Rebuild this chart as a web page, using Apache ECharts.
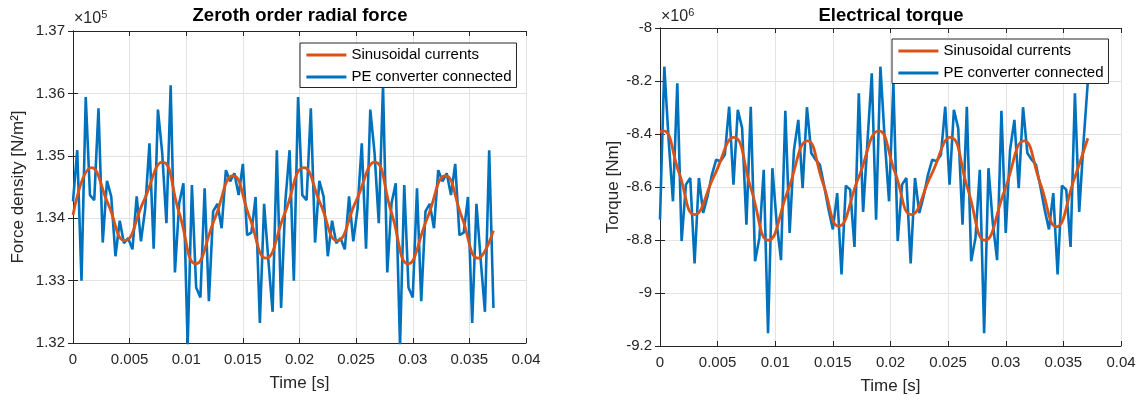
<!DOCTYPE html>
<html>
<head>
<meta charset="utf-8">
<script src="https://cdn.jsdelivr.net/npm/echarts@6/dist/echarts.min.js"></script>
<style>
html, body { margin: 0; padding: 0; background: #fff; }
#chart { width: 1143px; height: 400px; }
</style>
</head>
<body>
<div id="chart"></div>
<script>
// 采样步长（秒），蓝线每个点一个采样
const DT = 0.000375;

// 左图：径向力（单位 1e5 N/m^2）
const forcePE = [
	1.3427, 1.3509, 1.3300, 1.3594, 1.3437, 1.3429, 1.3576, 1.3361, 1.3460, 1.3435,
	1.3339, 1.3396, 1.3360, 1.3368, 1.3350, 1.3435, 1.3363, 1.3415, 1.3520, 1.3351,
	1.3574, 1.3505, 1.3392, 1.3613, 1.3313, 1.3424, 1.3456, 1.3195, 1.3453, 1.3289,
	1.3273, 1.3448, 1.3267, 1.3411, 1.3423, 1.3384, 1.3477, 1.3459, 1.3472, 1.3437,
	1.3487, 1.3373, 1.3377, 1.3434, 1.3232, 1.3423, 1.3333, 1.3250, 1.3509, 1.3256,
	1.3427, 1.3509, 1.3300, 1.3594, 1.3437, 1.3429, 1.3576, 1.3361, 1.3460, 1.3435,
	1.3339, 1.3396, 1.3360, 1.3368, 1.3350, 1.3435, 1.3363, 1.3415, 1.3520, 1.3351,
	1.3574, 1.3505, 1.3392, 1.3613, 1.3313, 1.3424, 1.3456, 1.3195, 1.3453, 1.3289,
	1.3273, 1.3448, 1.3267, 1.3411, 1.3423, 1.3384, 1.3477, 1.3459, 1.3472, 1.3437,
	1.3487, 1.3373, 1.3377, 1.3434, 1.3232, 1.3423, 1.3333, 1.3250, 1.3509, 1.3256
];
const forceSinT = [
	0, 0.00163, 0.0031, 0.00457, 0.00623, 0.0079, 0.00937, 0.01084, 0.01249, 0.01414,
	0.01558, 0.01703, 0.0187, 0.02038, 0.02185, 0.02332, 0.02498, 0.02665, 0.02812, 0.02959,
	0.03124, 0.03289, 0.03433, 0.03578, 0.03712
];
const forceSinV = [
	1.3405, 1.3481, 1.3423, 1.3364, 1.3427, 1.3490, 1.3409, 1.3327, 1.3398, 1.3468,
	1.3402, 1.3336, 1.3408, 1.3481, 1.3423, 1.3364, 1.3427, 1.3490, 1.3409, 1.3327,
	1.3398, 1.3468, 1.3402, 1.3336, 1.3380
];

// 右图：电磁转矩（单位 1e6 Nm）
const torquePE = [
	-8.723, -8.146, -8.422, -8.654, -8.209, -8.804, -8.591, -8.566, -8.888, -8.566,
	-8.698, -8.635, -8.554, -8.497, -8.503, -8.478, -8.297, -8.591, -8.309, -8.378,
	-8.742, -8.297, -8.880, -8.792, -8.535, -9.152, -8.529, -8.735, -8.876, -8.312,
	-8.773, -8.460, -8.347, -8.604, -8.299, -8.472, -8.497, -8.516, -8.597, -8.685,
	-8.760, -8.623, -8.930, -8.595, -8.610, -8.826, -8.246, -8.694, -8.430, -8.171,
	-8.723, -8.146, -8.422, -8.654, -8.209, -8.804, -8.591, -8.566, -8.888, -8.566,
	-8.698, -8.635, -8.554, -8.497, -8.503, -8.478, -8.297, -8.591, -8.309, -8.378,
	-8.742, -8.297, -8.880, -8.792, -8.535, -9.152, -8.529, -8.735, -8.876, -8.312,
	-8.773, -8.460, -8.347, -8.604, -8.299, -8.472, -8.497, -8.516, -8.597, -8.685,
	-8.760, -8.623, -8.930, -8.595, -8.610, -8.826, -8.246, -8.694, -8.430, -8.200
];
const torqueSinT = [
	0, 0.0003, 0.00165, 0.0030, 0.0047, 0.0064, 0.0079, 0.0094, 0.0111, 0.0128,
	0.01415, 0.0155, 0.0172, 0.0190, 0.0204, 0.0218, 0.0235, 0.0252, 0.0267, 0.0282,
	0.0299, 0.0316, 0.0330, 0.0344, 0.0359, 0.03712
];
const torqueSinV = [
	-8.392, -8.388, -8.546, -8.704, -8.558, -8.413, -8.607, -8.801, -8.613, -8.426,
	-8.587, -8.748, -8.568, -8.388, -8.546, -8.704, -8.558, -8.413, -8.607, -8.801,
	-8.613, -8.426, -8.587, -8.750, -8.575, -8.416
];

const xTicks = { min: 0, max: 0.04, interval: 0.005 };
const forceTicks = { min: 1.32, max: 1.37, interval: 0.01 };
const torqueTicks = { min: -9.2, max: -8, interval: 0.2 };

const LEG_NAMES = ['Sinusoidal currents', 'PE converter connected'];
const AXIS_COLOR = '#262626';
const FONT = "'Liberation Sans', Arial, sans-serif";

function pairs(ts, vs) {
	return vs.map((v, i) => [ts[i], v]);
}
function sampled(vs) {
	return vs.map((v, i) => [i * DT, v]);
}

function xAxisPair(gridIndex) {
	const base = {
		type: 'value',
		gridIndex: gridIndex,
		min: xTicks.min,
		max: xTicks.max,
		interval: xTicks.interval,
		axisLine: { lineStyle: { color: AXIS_COLOR, width: 1 } },
		axisTick: { inside: true, length: 5, lineStyle: { color: AXIS_COLOR } }
	};
	return [
		Object.assign({}, base, {
			position: 'bottom',
			name: 'Time [s]',
			nameLocation: 'middle',
			nameGap: 32,
			nameTextStyle: { fontSize: 17, color: AXIS_COLOR },
			axisLabel: { fontSize: 15, color: AXIS_COLOR, margin: 9 },
			splitLine: { show: true, lineStyle: { color: '#e3e3e3' } }
		}),
		Object.assign({}, base, {
			position: 'top',
			axisLabel: { show: false },
			splitLine: { show: false }
		})
	];
}

function yAxisPair(gridIndex, ticks, name, gap, digits) {
	const base = {
		type: 'value',
		gridIndex: gridIndex,
		min: ticks.min,
		max: ticks.max,
		interval: ticks.interval,
		axisLine: { show: true, lineStyle: { color: AXIS_COLOR, width: 1 } },
		axisTick: { show: true, inside: true, length: 5, lineStyle: { color: AXIS_COLOR } }
	};
	return [
		Object.assign({}, base, {
			position: 'left',
			name: name,
			nameLocation: 'middle',
			nameGap: gap,
			nameTextStyle: { fontSize: 17, color: AXIS_COLOR },
			axisLabel: {
				fontSize: 15,
				color: AXIS_COLOR,
				margin: 8,
				formatter: v => String(parseFloat(v.toFixed(digits)))
			},
			splitLine: { show: true, lineStyle: { color: '#e3e3e3' } }
		}),
		Object.assign({}, base, {
			position: 'right',
			axisLabel: { show: false },
			splitLine: { show: false }
		})
	];
}

function legendAt(left, top) {
	return {
		left: left,
		top: top,
		orient: 'vertical',
		data: LEG_NAMES,
		itemWidth: 40,
		itemHeight: 14,
		itemGap: 7,
		padding: [4.5, 5, 3, 5],
		borderColor: AXIS_COLOR,
		borderWidth: 1,
		backgroundColor: '#fff',
		itemStyle: { opacity: 0 },
		lineStyle: { width: 2.8 },
		textStyle: { fontSize: 15, color: '#000', fontFamily: FONT }
	};
}

function lineSeries(name, data, axisIdx, color, width, smooth, z) {
	return {
		name: name,
		type: 'line',
		xAxisIndex: axisIdx,
		yAxisIndex: axisIdx,
		data: data,
		symbol: 'none',
		smooth: smooth,
		z: z,
		lineStyle: { color: color, width: width },
		itemStyle: { color: color }
	};
}

const chart = echarts.init(document.getElementById('chart'));
const xs0 = xAxisPair(0);
const xs1 = xAxisPair(1);
const ys0 = yAxisPair(0, forceTicks, 'Force density [N/m²]', 46, 2);
const ys1 = yAxisPair(1, torqueTicks, 'Torque [Nm]', 38, 1);

const expRich = { s: { fontSize: 11, verticalAlign: 'top', padding: [0, 0, 9, 0], fill: AXIS_COLOR } };

chart.setOption({
	animation: false,
	backgroundColor: '#fff',
	textStyle: { fontFamily: FONT },
	title: [
		{
			text: 'Zeroth order radial force',
			left: 295, top: 1, textAlign: 'center',
			textStyle: { fontSize: 18.5, fontWeight: 'bold', color: '#000' }
		},
		{
			text: 'Electrical torque',
			left: 886, top: 1, textAlign: 'center',
			textStyle: { fontSize: 18.5, fontWeight: 'bold', color: '#000' }
		}
	],
	graphic: [
		{
			type: 'text', left: 74, top: 9,
			style: { text: '×10{s|5}', fill: AXIS_COLOR, font: '16px ' + FONT, rich: expRich }
		},
		{
			type: 'text', left: 661, top: 7,
			style: { text: '×10{s|6}', fill: AXIS_COLOR, font: '16px ' + FONT, rich: expRich }
		}
	],
	legend: [legendAt(300, 43), legendAt(892, 39)],
	grid: [
		{ left: 73, top: 31, width: 453, height: 312 },
		{ left: 660, top: 28, width: 461, height: 319 }
	],
	xAxis: [xs0[0], xs0[1], xs1[0], xs1[1]],
	yAxis: [ys0[0], ys0[1], ys1[0], ys1[1]],
	series: [
		lineSeries(LEG_NAMES[1], sampled(forcePE), 0, '#0072BD', 2.6, false, 2),
		lineSeries(LEG_NAMES[0], pairs(forceSinT, forceSinV), 0, '#D95319', 2.8, 0.5, 3),
		lineSeries(LEG_NAMES[1], sampled(torquePE), 2, '#0072BD', 2.6, false, 2),
		lineSeries(LEG_NAMES[0], pairs(torqueSinT, torqueSinV), 2, '#D95319', 2.8, 0.5, 3)
	]
});
</script>
</body>
</html>
